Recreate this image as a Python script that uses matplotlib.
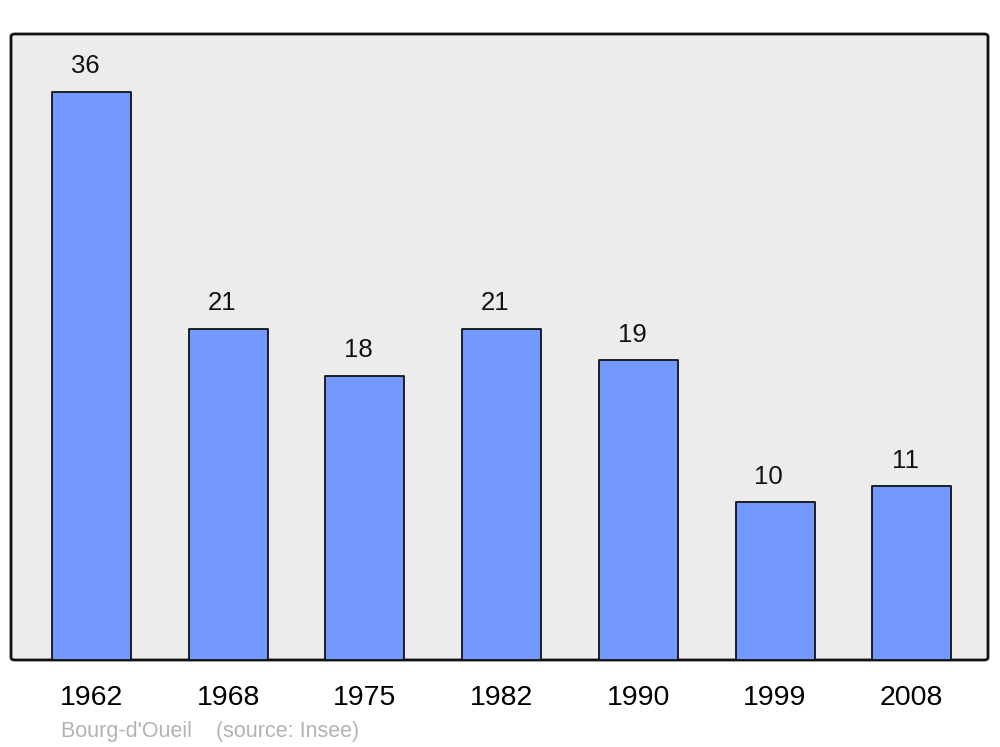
import matplotlib
matplotlib.use("Agg")
import matplotlib.pyplot as plt
from matplotlib.patches import FancyBboxPatch

years = ["1962", "1968", "1975", "1982", "1990", "1999", "2008"]
population = [36, 21, 18, 21, 19, 10, 11]
caption = "Bourg-d'Oueil    (source: Insee)"

plt.rcParams['font.family'] = ['Liberation Sans', 'DejaVu Sans']

fig = plt.figure(figsize=(10, 7.47), dpi=100)
ax = fig.add_axes([0.011, 1 - 660 / 747, 0.977, (660 - 34) / 747])
ax.patch.set_visible(False)
for s in ax.spines.values():
    s.set_visible(False)

frame = FancyBboxPatch((0, 0), 1, 1, boxstyle="round,pad=0,rounding_size=0.004",
                       transform=ax.transAxes, facecolor="#ececec",
                       edgecolor="#111111", linewidth=2.0, zorder=0, clip_on=False)
ax.add_patch(frame)

x = list(range(len(years)))
bars = ax.bar(x, population, width=0.578, color="#7399ff", edgecolor="#111111",
              linewidth=1.3, zorder=2)
for b in bars:
    b.set_joinstyle("round")

for xi, v in zip(x, population):
    ax.annotate(str(v), (xi, v), xytext=(-4.5, 18.5), textcoords="offset points",
                ha="center", va="center", fontsize=18.5, color="#111111")

ax.set_xlim(-0.589, 6.558)
ax.set_ylim(0, (660 - 34) / (568 / 36))
ax.set_yticks([])
ax.set_xticks(x)
ax.set_xticklabels(years, fontsize=20.5)
ax.tick_params(axis="x", length=0, pad=18)

fig.text(0.061, 1 - 731.5 / 747, caption, fontsize=15.5, color="#b3b3b3",
         ha="left", va="center")

fig.savefig("out.png", dpi=100)
